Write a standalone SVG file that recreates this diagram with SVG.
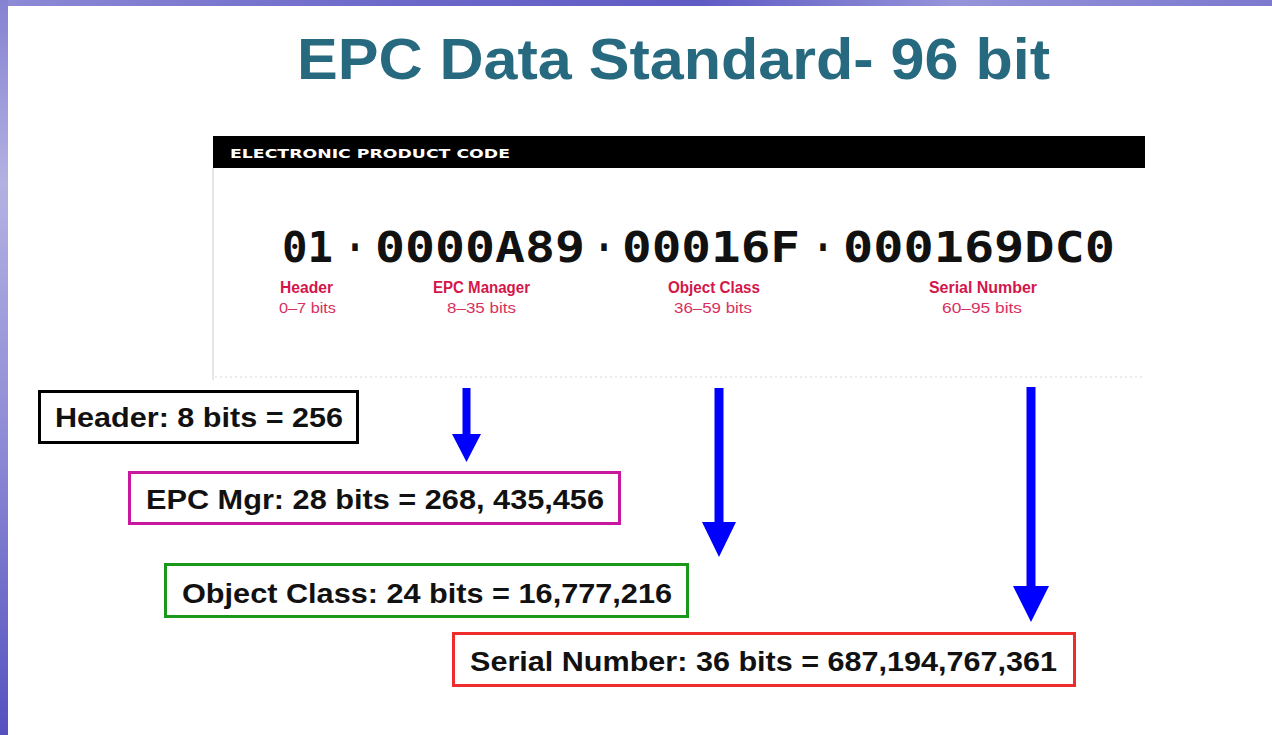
<svg xmlns="http://www.w3.org/2000/svg" width="1272" height="735" viewBox="0 0 1272 735">
  <defs>
    <linearGradient id="bandTop" x1="0" y1="0" x2="1" y2="0">
      <stop offset="0" stop-color="#8d8ad6"/>
      <stop offset="0.3" stop-color="#6d69c9"/>
      <stop offset="0.55" stop-color="#5f5bc4"/>
      <stop offset="0.75" stop-color="#9593d9"/>
      <stop offset="1" stop-color="#7c79cf"/>
    </linearGradient>
    <linearGradient id="bandLeft" x1="0" y1="0" x2="0" y2="1">
      <stop offset="0" stop-color="#8582d2"/>
      <stop offset="0.25" stop-color="#b3b1e2"/>
      <stop offset="0.6" stop-color="#8e8bd6"/>
      <stop offset="1" stop-color="#5552c0"/>
    </linearGradient>
    <style>
      .title { font-family: "Liberation Sans", Arial, sans-serif; font-weight: bold; font-size: 57px; fill: #276a7f; }
      .barText { font-family: "DejaVu Sans", "Liberation Sans", sans-serif; font-weight: bold; font-size: 13px; fill: #ffffff; }
      .code { font-family: "DejaVu Sans Mono", "Liberation Mono", monospace; font-weight: bold; font-size: 42px; fill: #111111; }
      .fieldName { font-family: "Liberation Sans", Arial, sans-serif; font-weight: bold; font-size: 16px; fill: #d4164b; }
      .fieldBits { font-family: "Liberation Sans", Arial, sans-serif; font-size: 15px; fill: #d8305e; }
      .box { fill: #ffffff; stroke-width: 3; }
      .boxText { font-family: "Liberation Sans", Arial, sans-serif; font-weight: bold; font-size: 27px; fill: #111111; }
      .arrow { fill: #0000ff; }
    </style>
  </defs>

  <!-- page background with slide frame -->
  <rect x="0" y="0" width="1272" height="735" fill="#ffffff"/>
  <rect x="0" y="0" width="1272" height="6" fill="url(#bandTop)"/>
  <rect x="0" y="0" width="8" height="735" fill="url(#bandLeft)"/>

  <text class="title" x="297" y="79" textLength="753" lengthAdjust="spacingAndGlyphs">EPC Data Standard- 96 bit</text>

  <!-- EPC code card -->
  <g id="epc-card">
    <rect x="213" y="136" width="932" height="32" fill="#000000"/>
    <text class="barText" x="230" y="158" textLength="280" lengthAdjust="spacingAndGlyphs">ELECTRONIC PRODUCT CODE</text>
    <line x1="213" y1="168" x2="213" y2="380" stroke="#dddddd" stroke-width="1.5"/>
    <line x1="215" y1="377" x2="1145" y2="377" stroke="#d6d6d6" stroke-width="1" stroke-dasharray="2 3"/>

    <text class="code" x="282" y="262" textLength="51" lengthAdjust="spacingAndGlyphs">01</text>
    <text class="code" x="345" y="262" textLength="20" lengthAdjust="spacingAndGlyphs">·</text>
    <text class="code" x="375" y="262" textLength="210" lengthAdjust="spacingAndGlyphs">0000A89</text>
    <text class="code" x="594" y="262" textLength="20" lengthAdjust="spacingAndGlyphs">·</text>
    <text class="code" x="622" y="262" textLength="178" lengthAdjust="spacingAndGlyphs">00016F</text>
    <text class="code" x="813" y="262" textLength="20" lengthAdjust="spacingAndGlyphs">·</text>
    <text class="code" x="843" y="262" textLength="272" lengthAdjust="spacingAndGlyphs">000169DC0</text>

    <text class="fieldName" x="280" y="293" textLength="53" lengthAdjust="spacingAndGlyphs">Header</text>
    <text class="fieldBits" x="279" y="313" textLength="57" lengthAdjust="spacingAndGlyphs">0–7 bits</text>
    <text class="fieldName" x="433" y="293" textLength="97" lengthAdjust="spacingAndGlyphs">EPC Manager</text>
    <text class="fieldBits" x="447" y="313" textLength="69" lengthAdjust="spacingAndGlyphs">8–35 bits</text>
    <text class="fieldName" x="668" y="293" textLength="92" lengthAdjust="spacingAndGlyphs">Object Class</text>
    <text class="fieldBits" x="674" y="313" textLength="78" lengthAdjust="spacingAndGlyphs">36–59 bits</text>
    <text class="fieldName" x="929" y="293" textLength="108" lengthAdjust="spacingAndGlyphs">Serial Number</text>
    <text class="fieldBits" x="942" y="313" textLength="80" lengthAdjust="spacingAndGlyphs">60–95 bits</text>
  </g>

  <!-- arrows from the code fields down to the summaries -->
  <g id="connectors">
    <polygon class="arrow" points="462.5,388 470.5,388 470.5,434 481,434 466.5,462 452,434 462.5,434"/>
    <polygon class="arrow" points="714.5,388 723.5,388 723.5,522 736,522 719,557 702,522 714.5,522"/>
    <polygon class="arrow" points="1026.5,387 1035.5,387 1035.5,586 1049,586 1031,622 1013,586 1026.5,586"/>
  </g>

  <g id="header-box">
    <rect class="box" x="39.5" y="391.5" width="318" height="51" stroke="#000000"/>
    <text class="boxText" x="55" y="427" textLength="288" lengthAdjust="spacingAndGlyphs">Header: 8 bits = 256</text>
  </g>

  <g id="epc-manager-box">
    <rect class="box" x="129.5" y="472.5" width="490" height="51" stroke="#c8189e"/>
    <text class="boxText" x="146" y="509" textLength="458" lengthAdjust="spacingAndGlyphs">EPC Mgr: 28 bits = 268, 435,456</text>
  </g>

  <g id="object-class-box">
    <rect class="box" x="165.5" y="564.5" width="522" height="52" stroke="#1a981a"/>
    <text class="boxText" x="182" y="603" textLength="490" lengthAdjust="spacingAndGlyphs">Object Class: 24 bits = 16,777,216</text>
  </g>

  <g id="serial-number-box">
    <rect class="box" x="453.5" y="633.5" width="621" height="52" stroke="#ee2c2c"/>
    <text class="boxText" x="470" y="671" textLength="587" lengthAdjust="spacingAndGlyphs">Serial Number: 36 bits = 687,194,767,361</text>
  </g>
</svg>
